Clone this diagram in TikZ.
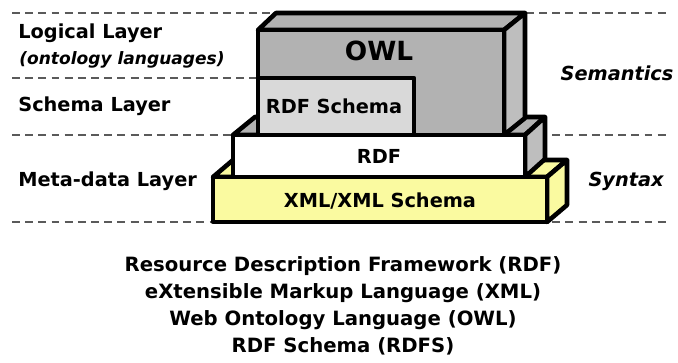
\documentclass[tikz,border=0pt]{standalone}
\usepackage{fontspec}
\setmainfont{DejaVu Sans}
\usepackage{xcolor}
\definecolor{owlgray}{RGB}{178,178,178}
\definecolor{owlside}{RGB}{190,190,190}
\definecolor{rdfsgray}{RGB}{217,217,217}
\definecolor{xmlyellow}{RGB}{250,250,160}
\definecolor{dashgray}{RGB}{90,90,90}
\tikzset{
  face/.style={draw=black,line width=2.6pt,line join=round},
  layerline/.style={dashgray,line width=0.7pt,dash pattern=on 4.5pt off 3pt},
  lbl/.style={font=\bfseries\fontsize{11}{13}\selectfont,anchor=west,inner sep=0pt},
}
\begin{document}
\begin{tikzpicture}[x={(0.02cm,0)},y={(0,-0.02cm)}]
\useasboundingbox (0,0) rectangle (678,362);
% layer separators
\foreach \y in {13,135,222}{
\draw[layerline] (12,\y) -- (668,\y);
}
\draw[layerline] (12,78) -- (258,78);
% XML slab (back faces)
\draw[face,fill=xmlyellow] (213,177) -- (233,160) -- (567,160) -- (547,177) -- cycle;
\draw[face,fill=xmlyellow] (547,177) -- (567,160) -- (567,205) -- (547,222) -- cycle;
% RDF slab (back faces)
\draw[face,fill=owlgray] (233,135) -- (255,117) -- (545,117) -- (525,135) -- cycle;
\draw[face,fill=owlside] (525,135) -- (545,117) -- (545,159) -- (525,177) -- cycle;
% OWL block
\draw[face,fill=owlgray] (258,30) -- (276,13) -- (525,13) -- (504,30) -- cycle;
\draw[face,fill=owlside] (504,30) -- (525,13) -- (525,118) -- (504,135) -- cycle;
\draw[face,fill=owlgray] (258,30) rectangle (504,135);
\node[font=\bfseries\fontsize{15}{17}\selectfont] (owl) at (379,51) {OWL};
% RDF Schema
\draw[face,fill=rdfsgray] (258,78) rectangle (414,135);
\node[font=\bfseries\fontsize{11}{13}\selectfont] (rdfs) at (334,106) {RDF Schema};
% RDF front
\draw[face,fill=white] (233,135) rectangle (525,177);
\node[font=\bfseries\fontsize{11}{13}\selectfont] (rdf) at (379,156) {RDF};
% XML front
\draw[face,fill=xmlyellow] (213,177) rectangle (547,222);
\node[font=\bfseries\fontsize{11}{13}\selectfont] (xml) at (380,201) {XML/XML Schema};
% layer names
\node[lbl] (logical) at (18,33) {Logical Layer};
\node[lbl,font=\bfseries\itshape\fontsize{9.7}{12}\selectfont] (onto) at (19,60) {(ontology languages)};
\node[lbl] (schema) at (18,106) {Schema Layer};
\node[lbl] (meta) at (18,181) {Meta-data Layer};
\node[font=\bfseries\itshape\fontsize{11}{13}\selectfont] (sem) at (617,73) {Semantics};
\node[font=\bfseries\itshape\fontsize{11}{13}\selectfont] (syn) at (626,181) {Syntax};
% acronyms
\node[font=\bfseries\fontsize{11.2}{15.3}\selectfont,align=center] (legend) at (343,306)
{Resource Description Framework (RDF)\\
eXtensible Markup Language (XML)\\
Web Ontology Language (OWL)\\
RDF Schema (RDFS)};
\end{tikzpicture}
\end{document}
